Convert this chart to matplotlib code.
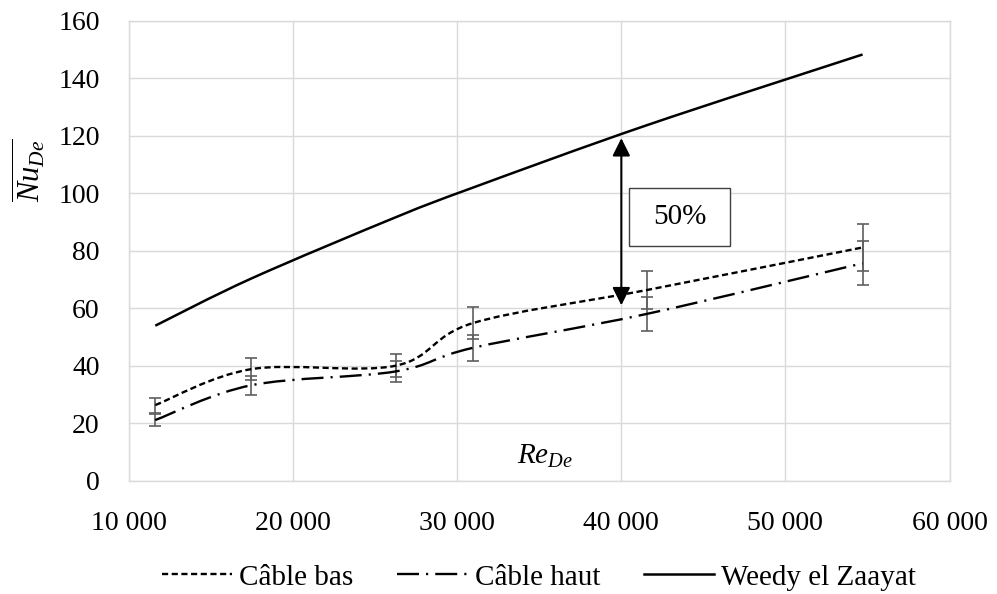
import numpy as np
import matplotlib
matplotlib.use('Agg')
import matplotlib.pyplot as plt
from matplotlib.path import Path
from matplotlib.patches import PathPatch, Rectangle
from matplotlib.lines import Line2D

plt.rcParams['font.family'] = ['Liberation Serif', 'DejaVu Serif']
plt.rcParams['mathtext.fontset'] = 'custom'
plt.rcParams['mathtext.rm'] = 'Liberation Serif'
plt.rcParams['mathtext.it'] = 'Liberation Serif:italic'

# valeurs
re_de = [11600, 17450, 26250, 30950, 41550, 54700]
nu_bas = [26.3, 38.8, 40.0, 54.8, 66.3, 81.1]
err_bas = [2.6, 3.9, 4.0, 5.5, 6.6, 8.1]
nu_haut = [21.1, 33.2, 38.0, 46.2, 58.0, 75.6]
err_haut = [2.1, 3.3, 3.8, 4.6, 5.8, 7.6]
nu_weedy = [53.9, 70.3, 91.6, 101.9, 123.6, 148.2]

xticks = [10000, 20000, 30000, 40000, 50000, 60000]
xticklabels = ['10 000', '20 000', '30 000', '40 000', '50 000', '60 000']
yticks = [0, 20, 40, 60, 80, 100, 120, 140, 160]

arrow_x = 40000
arrow_top = 119.1
arrow_bot = 61.0


def smooth_path(xs, ys):
    # courbe lissee facon Excel (bezier)
    pts = np.column_stack([xs, ys]).astype(float)
    n = len(pts)
    verts = [pts[0]]
    codes = [Path.MOVETO]
    for i in range(n - 1):
        p0 = pts[max(i - 1, 0)]
        p1 = pts[i]
        p2 = pts[i + 1]
        p3 = pts[min(i + 2, n - 1)]
        verts += [p1 + (p2 - p0) / 6, p2 - (p3 - p1) / 6, p2]
        codes += [Path.CURVE4] * 3
    return Path(verts, codes)


lw = 1.7
ls_bas = (0, (2.6, 1.5))
ls_haut = (0, (9.3, 3.0, 0.9, 3.0))

fig = plt.figure(figsize=(9.97, 5.94), dpi=100)
ax = fig.add_axes([0.1294, 0.1907, 0.8230, 0.7747])

ax.errorbar(re_de, nu_bas, yerr=err_bas, fmt='none', ecolor='#5f5f5f',
            elinewidth=1.2, capsize=4, capthick=1.2, zorder=2)
ax.errorbar(re_de, nu_haut, yerr=err_haut, fmt='none', ecolor='#5f5f5f',
            elinewidth=1.2, capsize=4, capthick=1.2, zorder=2)

ax.add_patch(PathPatch(smooth_path(re_de, nu_bas), fill=False, ec='black',
                       lw=lw, linestyle=ls_bas, capstyle='butt', zorder=3))
ax.add_patch(PathPatch(smooth_path(re_de, nu_haut), fill=False, ec='black',
                       lw=lw, linestyle=ls_haut, capstyle='butt', zorder=3))
ax.add_patch(PathPatch(smooth_path(re_de, nu_weedy), fill=False, ec='black',
                       lw=1.8, zorder=3))

# fleche 50%
ax.annotate('', xy=(arrow_x, arrow_bot), xytext=(arrow_x, arrow_top),
            arrowprops=dict(arrowstyle='<|-|>,head_length=0.4,head_width=0.2',
                            mutation_scale=27, color='black', lw=1.5,
                            shrinkA=0, shrinkB=0), zorder=4)
ax.add_patch(Rectangle((40465, 81.6), 6180, 20.3, fill=True, fc='white',
                       ec='#404040', lw=1.0, zorder=4))
ax.text(43555, 91.7, '50%', fontsize=21, ha='center', va='center', zorder=5)

ax.set_xlim(10000, 60000)
ax.set_ylim(0, 160)
ax.set_xticks(xticks)
ax.set_xticklabels(xticklabels)
ax.set_yticks(yticks)
ax.tick_params(axis='both', length=0, labelsize=20)
ax.tick_params(axis='x', pad=22)
ax.tick_params(axis='y', pad=21)
ax.grid(True, color='#d9d9d9', lw=1.0)
ax.set_axisbelow(True)
for s in ax.spines.values():
    s.set_color('#d9d9d9')
    s.set_linewidth(1.0)

ax.text(0.507, 0.052, '$Re_{De}$', transform=ax.transAxes, fontsize=21,
        ha='center', va='center')
fig.text(0.028, 0.714, r'$\overline{Nu_{De}}$', fontsize=22, rotation=90,
         ha='center', va='center')

handles = [Line2D([], [], color='black', lw=lw, linestyle=ls_bas),
           Line2D([], [], color='black', lw=lw, linestyle=ls_haut),
           Line2D([], [], color='black', lw=1.8)]
fig.legend(handles, ['Câble bas', 'Câble haut', 'Weedy el Zaayat'],
           loc='center', bbox_to_anchor=(0.5406, 0.028), ncol=3, frameon=False,
           fontsize=21, handlelength=2.4, handletextpad=0.25, columnspacing=1.5,
           borderpad=0)

fig.savefig('out.png', dpi=100)
